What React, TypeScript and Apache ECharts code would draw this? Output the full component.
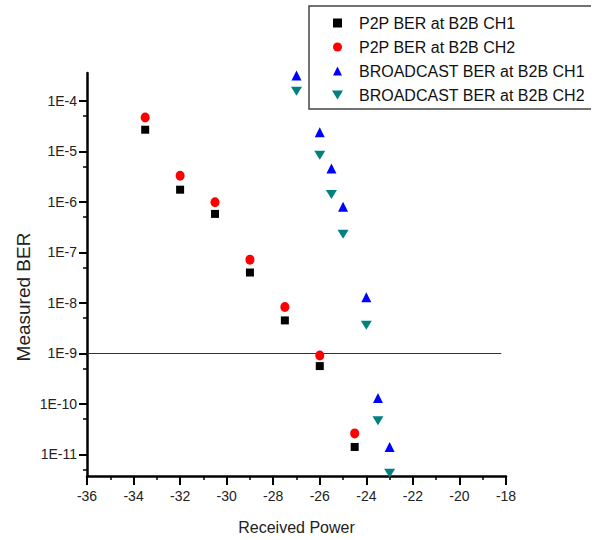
import React, { useEffect, useRef } from "react";
import * as echarts from "echarts";

const seriesNames = [
  "P2P BER at B2B CH1",
  "P2P BER at B2B CH2",
  "BROADCAST BER at B2B CH1",
  "BROADCAST BER at B2B CH2",
];
const seriesColors = ["#000000", "#ff0000", "#0000ff", "#008080"];

const p2pPower = [-33.5, -32, -30.5, -29, -27.5, -26, -24.5];
const p2pCh1Ber = [2.7e-5, 1.75e-6, 5.8e-7, 4.0e-8, 4.5e-9, 5.6e-10, 1.4e-11];
const p2pCh2Ber = [4.7e-5, 3.3e-6, 9.9e-7, 7.2e-8, 8.3e-9, 9.1e-10, 2.6e-11];

const bcPower = [-27, -26, -25.5, -25, -24, -23.5, -23];
const bcCh1Ber = [3.2e-4, 2.4e-5, 4.6e-6, 8.0e-7, 1.3e-8, 1.3e-10, 1.4e-11];
const bcCh2Ber = [1.56e-4, 8.4e-6, 1.4e-6, 2.3e-7, 3.6e-9, 4.6e-11, 4.2e-12];

const xMin = -36;
const xMax = -18;
const xInterval = 2;
const yMin = 3.72e-12;
const yMax = 3.59e-4;
const yMajorTicks = [1e-11, 1e-10, 1e-9, 1e-8, 1e-7, 1e-6, 1e-5, 1e-4];
const yMinorTicks = [5e-12, 5e-11, 5e-10, 5e-9, 5e-8, 5e-7, 5e-6, 5e-5];
const thresholdBer = 1e-9;
const thresholdXEnd = -18.2;

const FONT = "'Liberation Sans', Arial, sans-serif";

const SYM_SQUARE = "path://M0,0H10V10H0Z";
const SYM_CIRCLE = "path://M5,0A5,5,0,1,1,5,10A5,5,0,1,1,5,0Z";
const SYM_UP = "path://M5,0L10,10L0,10Z";
const SYM_DOWN = "path://M0,0L11,0L5.5,9Z";
const symbols = [SYM_SQUARE, SYM_CIRCLE, SYM_UP, SYM_DOWN];
const symbolSizes: any[] = [[8, 8], [9, 10], [10, 10], [11, 9]];

function pairs(xs: number[], ys: number[]) {
  return xs.map((x, i) => [x, ys[i]]);
}

export default function App() {
  const ref = useRef<HTMLDivElement>(null);
  useEffect(() => {
    if (!ref.current) return;
    const chart = echarts.init(ref.current, null, { renderer: "svg" });
    const datasets = [
      pairs(p2pPower, p2pCh1Ber),
      pairs(p2pPower, p2pCh2Ber),
      pairs(bcPower, bcCh1Ber),
      pairs(bcPower, bcCh2Ber),
    ];
    const series: any[] = datasets.map((d, i) => ({
      name: seriesNames[i],
      type: "scatter",
      xAxisIndex: 0,
      yAxisIndex: 0,
      data: d,
      symbol: symbols[i],
      symbolSize: symbolSizes[i],
      itemStyle: { color: seriesColors[i], opacity: 1 },
      z: 3,
    }));
    series[0].markLine = {
      silent: true,
      symbol: ["none", "none"],
      label: { show: false },
      lineStyle: { color: "#333333", width: 1.2, type: "solid", opacity: 1 },
      data: [[{ coord: [xMin, thresholdBer] }, { coord: [thresholdXEnd, thresholdBer] }]],
      z: 1,
    };
    chart.setOption({
      animation: false,
      backgroundColor: "#ffffff",
      grid: { left: 87, right: 100, top: 73, bottom: 64, containLabel: false },
      legend: {
        orient: "vertical",
        left: 332,
        top: 15,
        padding: 0,
        itemWidth: 33,
        itemHeight: 9,
        itemGap: 8,
        selectedMode: false,
        textStyle: { fontSize: 16, lineHeight: 16, color: "#111111", fontFamily: FONT },
        data: seriesNames.map((n, i) => ({ name: n, icon: symbols[i], itemStyle: { opacity: 1 } })),
      },
      xAxis: {
        type: "value",
        min: xMin,
        max: xMax,
        interval: xInterval,
        name: "Received Power",
        nameLocation: "middle",
        nameGap: 43,
        nameTextStyle: { fontSize: 16, color: "#222222", fontFamily: FONT },
        axisLine: { show: true, onZero: false, lineStyle: { color: "#000000", width: 2.5 } },
        axisTick: { show: true, inside: false, length: 9, lineStyle: { color: "#000000", width: 2 } },
        minorTick: { show: true, splitNumber: 2, length: 4, lineStyle: { color: "#000000", width: 1.5 } },
        axisLabel: { fontSize: 14, color: "#222222", margin: 13, fontFamily: FONT },
        splitLine: { show: false },
      },
      yAxis: [
        {
          type: "log",
          logBase: 10,
          min: yMin,
          max: yMax,
          position: "left",
          axisLine: { show: true, lineStyle: { color: "#000000", width: 2.5 } },
          axisTick: {
            show: true,
            inside: false,
            length: 8,
            customValues: yMajorTicks,
            lineStyle: { color: "#000000", width: 2 },
          },
          axisLabel: {
            show: true,
            customValues: yMajorTicks,
            fontSize: 14,
            color: "#222222",
            margin: 10,
            fontFamily: FONT,
            formatter: (v: number) => "1E" + Math.round(Math.log10(v)),
          },
          splitLine: { show: false },
          minorTick: { show: false },
        },
        {
          type: "log",
          logBase: 10,
          min: yMin,
          max: yMax,
          position: "left",
          offset: 0,
          axisLine: { show: false },
          axisTick: {
            show: true,
            inside: false,
            length: 4,
            customValues: yMinorTicks,
            lineStyle: { color: "#000000", width: 1.5 },
          },
          axisLabel: { show: false },
          splitLine: { show: false },
          minorTick: { show: false },
        },
      ],
      graphic: [
        {
          type: "text",
          x: 23,
          y: 297,
          rotation: Math.PI / 2,
          style: {
            text: "Measured BER",
            fontSize: 19,
            fill: "#222222",
            fontFamily: FONT,
            align: "center",
            verticalAlign: "middle",
          },
        },
        {
          type: "polyline",
          shape: { points: [[591, 6], [309, 6], [309, 109], [591, 109]] },
          style: { stroke: "#444444", lineWidth: 1.5, fill: null },
        },
      ],
      series,
    });
    return () => chart.dispose();
  }, []);
  return (
    <div
      ref={ref}
      style={{ position: "absolute", left: 0, top: 0, width: 606, height: 540, background: "#fff" }}
    />
  );
}
